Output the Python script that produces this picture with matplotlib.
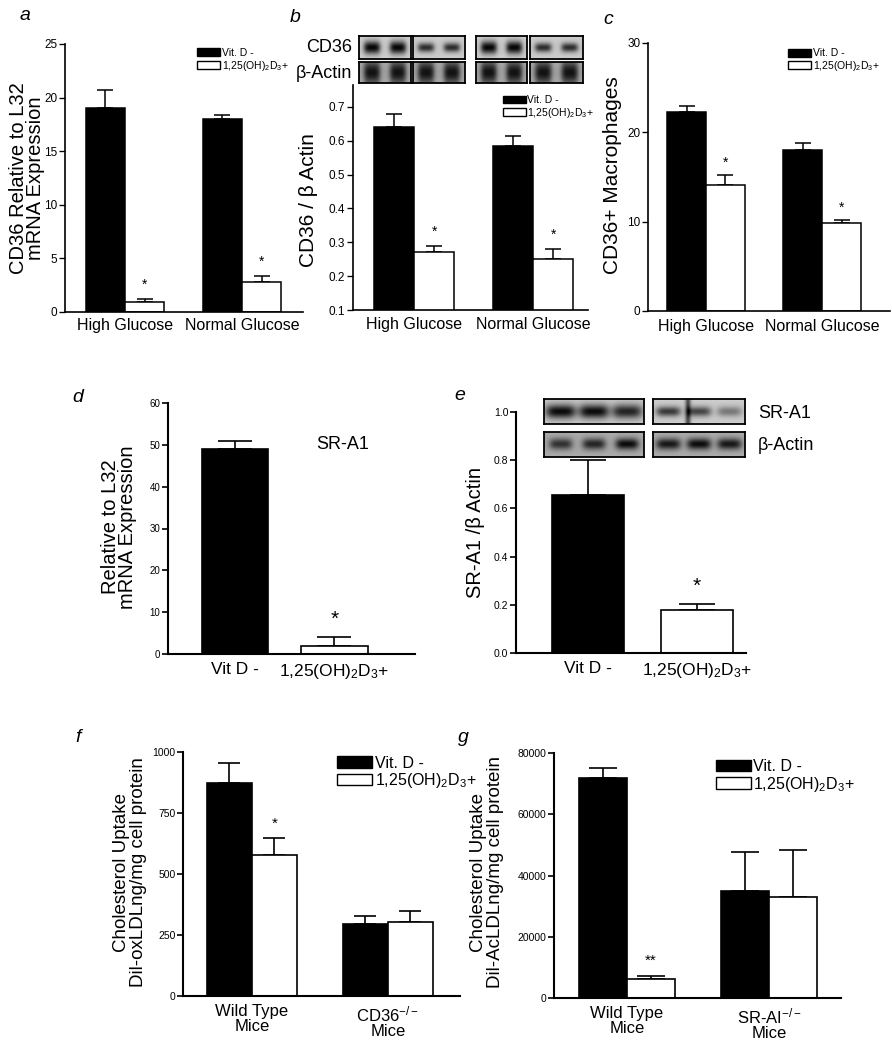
"""
Vitamin D / CD36 / SR-A1 figure, panels a-g, rebuilt with matplotlib.
Layout is done in pixel coordinates of the 892x1050 original.
"""
import numpy as np
import matplotlib
matplotlib.use("Agg")
import matplotlib.pyplot as plt
from matplotlib.patches import Patch

plt.rcParams["font.family"] = ["Liberation Sans", "DejaVu Sans"]
plt.rcParams["mathtext.fontset"] = "custom"
plt.rcParams["mathtext.rm"] = "Liberation Sans"
plt.rcParams["mathtext.it"] = "Liberation Sans:italic"
plt.rcParams["mathtext.default"] = "regular"

# ---------- data ----------
GLUCOSE = ["High Glucose", "Normal Glucose"]
LEGEND = ["Vit. D -", "1,25(OH)$_2$D$_3$+"]

A_VITD = [19.0, 18.0]
A_VITD_ERR = [1.7, 0.4]
A_CAL = [0.9, 2.8]
A_CAL_ERR = [0.3, 0.6]

B_VITD = [0.64, 0.585]
B_VITD_ERR = [0.04, 0.03]
B_CAL = [0.27, 0.25]
B_CAL_ERR = [0.02, 0.03]

C_VITD = [22.3, 18.0]
C_VITD_ERR = [0.7, 0.8]
C_CAL = [14.1, 9.8]
C_CAL_ERR = [1.1, 0.4]

TREAT = ["Vit D -", "1,25(OH)$_2$D$_3$+"]
D_VALS = [49.0, 2.0]
D_ERR = [2.0, 2.0]
E_VALS = [0.655, 0.18]
E_ERR = [0.145, 0.022]

F_MICE = ["Wild Type\nMice", "CD36$^{-/-}$\nMice"]
F_VITD = [873, 295]
F_VITD_ERR = [82, 33]
F_CAL = [578, 303]
F_CAL_ERR = [70, 45]

G_MICE = ["Wild Type\nMice", "SR-AI$^{-/-}$\nMice"]
G_VITD = [71800, 34900]
G_VITD_ERR = [3300, 12800]
G_CAL = [6200, 33000]
G_CAL_ERR = [1000, 15300]

# ---------- helpers ----------
W, H = 892, 1050
fig = plt.figure(figsize=(W / 100, H / 100), dpi=100)


def px_axes(x0, y0, x1, y1):
    return fig.add_axes([x0 / W, 1 - y1 / H, (x1 - x0) / W, (y1 - y0) / H])


def ftext(x, y, s, **kw):
    fig.text(x / W, 1 - y / H, s, **kw)


def style(ax, lw, ticksize, xsize, xpad):
    for s in ("top", "right"):
        ax.spines[s].set_visible(False)
    for s in ("left", "bottom"):
        ax.spines[s].set_linewidth(lw)
    ax.tick_params(axis="y", length=4, width=lw * 0.8, labelsize=ticksize, pad=1.5)
    ax.tick_params(axis="x", length=0, labelsize=xsize, pad=xpad)


def bars_with_err(ax, xs, vals, errs, width, color, capsize, lw):
    ax.bar(xs, vals, width, color=color, edgecolor="black", linewidth=lw, zorder=2)
    ax.errorbar(xs, vals, yerr=[np.zeros(len(vals)), errs], fmt="none",
                ecolor="black", elinewidth=lw, capsize=capsize, capthick=lw, zorder=1)


def star(ax, x, top, s, offset, size):
    ax.annotate(s, xy=(x, top), xytext=(0, offset), textcoords="offset points",
                ha="center", va="center", fontsize=size)


def legend(ax, x, y, size, hl, hh):
    handles = [Patch(facecolor="black", edgecolor="black"),
               Patch(facecolor="white", edgecolor="black")]
    ax.legend(handles, LEGEND, loc="upper left", bbox_to_anchor=(x, y), frameon=False,
              fontsize=size, handlelength=hl, handleheight=hh, labelspacing=0.05,
              handletextpad=0.15, borderpad=0, borderaxespad=0)


def blot(x0, y0, x1, y1, strengths, bg, bw=0.32, bh=0.28, streak=0.0):
    ax = px_axes(x0, y0, x1, y1)
    xx, yy = np.meshgrid(np.linspace(0, 1, 160), np.linspace(0, 1, 40))
    img = np.full(xx.shape, bg)
    n = len(strengths)
    for i, s in enumerate(strengths):
        c = (i + 0.5) / n
        img -= s * np.exp(-((xx - c) / (bw / n)) ** 4 - ((yy - 0.5) / bh) ** 2)
    if streak:
        img -= streak * np.exp(-((xx - 0.38) / 0.03) ** 2)
    img -= 0.08 * np.exp(-((yy - 0.5) / 0.6) ** 2)
    ax.imshow(np.clip(img, 0, 1), cmap="gray", vmin=0, vmax=1, aspect="auto")
    ax.set_xticks([]); ax.set_yticks([])
    for s in ax.spines.values():
        s.set_linewidth(1.3)


# ---------- panel a ----------
ax = px_axes(65, 44, 303, 312)
x = np.arange(2)
w = 0.335
bars_with_err(ax, x - w / 2, A_VITD, A_VITD_ERR, w, "black", 5.5, 1.1)
bars_with_err(ax, x + w / 2, A_CAL, A_CAL_ERR, w, "white", 5.5, 1.1)
for i in range(2):
    star(ax, x[i] + w / 2, A_CAL[i] + A_CAL_ERR[i], "*", 10, 10)
ax.set_xlim(-0.513, 1.521); ax.set_ylim(0, 25)
ax.set_yticks([0, 5, 10, 15, 20, 25])
ax.set_xticks(x, GLUCOSE)
style(ax, 1.2, 8.5, 11.5, 4)
legend(ax, 0.555, 0.985, 7.5, 2.2, 0.8)
ftext(27, 178, "CD36 Relative to L32\nmRNA Expression", rotation=90, ha="center",
      va="center", ma="center", fontsize=14.5, linespacing=0.9)
ftext(20, 16, "a", fontsize=14, style="italic", ha="left", va="center")

# ---------- panel b ----------
ax = px_axes(353, 85, 588, 310)
w = 0.336
bars_with_err(ax, x - w / 2, B_VITD, B_VITD_ERR, w, "black", 5.5, 1.1)
bars_with_err(ax, x + w / 2, B_CAL, B_CAL_ERR, w, "white", 5.5, 1.1)
for i in range(2):
    star(ax, x[i] + w / 2, B_CAL[i] + B_CAL_ERR[i], "*", 10, 10)
ax.set_xlim(-0.513, 1.462); ax.set_ylim(0.1, 0.765)
ax.set_yticks(np.arange(1, 8) / 10)
ax.set_yticklabels([f"{v / 10:.1f}" for v in range(1, 8)])
ax.set_xticks(x, GLUCOSE)
style(ax, 1.2, 8.5, 11.5, 5)
legend(ax, 0.638, 0.955, 7.5, 2.2, 0.8)
ftext(309, 200, "CD36 / \u03b2 Actin", rotation=90, ha="center", va="center", fontsize=15)
ftext(290, 17, "b", fontsize=14, style="italic", ha="left", va="center")
ftext(352, 48, "CD36", ha="right", va="center", fontsize=13)
ftext(352, 73, "\u03b2-Actin", ha="right", va="center", fontsize=13)
blot(359, 36, 411, 59, [0.75, 0.75], 0.85)
blot(413, 36, 465, 59, [0.6, 0.6], 0.85, bh=0.2)
blot(476, 36, 527, 59, [0.75, 0.75], 0.85)
blot(530, 36, 583, 59, [0.6, 0.6], 0.85, bh=0.2)
for bx0, bx1 in [(359, 411), (413, 465), (476, 527), (530, 583)]:
    blot(bx0, 62, bx1, 83, [0.55, 0.55], 0.7, bh=0.6)

# ---------- panel c ----------
ax = px_axes(648, 43, 890, 311)
w = 0.336
bars_with_err(ax, x - w / 2, C_VITD, C_VITD_ERR, w, "black", 5.5, 1.1)
bars_with_err(ax, x + w / 2, C_CAL, C_CAL_ERR, w, "white", 5.5, 1.1)
for i in range(2):
    star(ax, x[i] + w / 2, C_CAL[i] + C_CAL_ERR[i], "*", 9, 10)
ax.set_xlim(-0.5, 1.586); ax.set_ylim(0, 30)
ax.set_yticks([0, 10, 20, 30])
ax.set_xticks(x, GLUCOSE)
style(ax, 1.2, 8.5, 11.5, 6)
legend(ax, 0.579, 0.98, 7.5, 2.2, 0.8)
ftext(613, 175, "CD36+ Macrophages", rotation=90, ha="center", va="center", fontsize=15)
ftext(603, 20, "c", fontsize=14, style="italic", ha="left", va="center")

# ---------- panel d ----------
ax = px_axes(168, 403, 415, 654)
w = 0.668
ax.bar(x, D_VALS, w, color=["black", "white"], edgecolor="black", linewidth=1.2, zorder=2)
ax.errorbar(x, D_VALS, yerr=[np.zeros(2), D_ERR], fmt="none", ecolor="black",
            elinewidth=1.2, capsize=12, capthick=1.2, zorder=1)
star(ax, x[1], D_VALS[1] + D_ERR[1], "*", 13, 15)
ax.set_xlim(-0.673, 1.809); ax.set_ylim(0, 60)
ax.set_yticks(range(0, 61, 10))
ax.set_xticks(x, TREAT)
style(ax, 1.5, 7, 12.5, 6)
ax.text(1.08, 50, "SR-A1", ha="center", va="center", fontsize=13)
ftext(119, 527, "Relative to L32\nmRNA Expression", rotation=90, ha="center",
      va="center", ma="center", fontsize=14.5, linespacing=0.9)
ftext(78, 398, "d", fontsize=14, style="italic", ha="center", va="center")

# ---------- panel e ----------
ax = px_axes(516, 412, 746, 653)
w = 0.66
ax.bar(x, E_VALS, w, color=["black", "white"], edgecolor="black", linewidth=1.2, zorder=2)
ax.errorbar(x, E_VALS, yerr=[np.zeros(2), E_ERR], fmt="none", ecolor="black",
            elinewidth=1.2, capsize=13, capthick=1.2, zorder=1)
star(ax, x[1], E_VALS[1] + E_ERR[1], "*", 13, 15)
ax.set_xlim(-0.661, 1.45); ax.set_ylim(0, 1.0)
ax.set_yticks(np.arange(0, 6) / 5)
ax.set_yticklabels([f"{v / 5:.1f}" for v in range(6)])
ax.set_xticks(x, TREAT)
style(ax, 1.5, 7.5, 12.5, 6)
ftext(475, 532, "SR-A1 /\u03b2 Actin", rotation=90, ha="center", va="center", fontsize=14.5)
ftext(460, 395, "e", fontsize=14, style="italic", ha="center", va="center")
ftext(758, 413, "SR-A1", ha="left", va="center", fontsize=13)
ftext(758, 445, "\u03b2-Actin", ha="left", va="center", fontsize=13)
blot(544, 399, 644, 424, [0.7, 0.7, 0.6], 0.82, bw=0.45)
blot(653, 399, 745, 424, [0.55, 0.5, 0.3], 0.85, bw=0.4, bh=0.2, streak=0.5)
blot(544, 432, 644, 457, [0.45, 0.5, 0.6], 0.72, bw=0.35, bh=0.22)
blot(653, 432, 745, 457, [0.55, 0.6, 0.55], 0.72, bw=0.4, bh=0.22)

# ---------- panel f ----------
ax = px_axes(183, 752, 460, 996)
w = 0.331
bars_with_err(ax, x - w / 2, F_VITD, F_VITD_ERR, w, "black", 8, 1.2)
bars_with_err(ax, x + w / 2, F_CAL, F_CAL_ERR, w, "white", 8, 1.2)
star(ax, x[0] + w / 2, F_CAL[0] + F_CAL_ERR[0], "*", 10, 11)
ax.set_xlim(-0.507, 1.53); ax.set_ylim(0, 1000)
ax.set_yticks([0, 250, 500, 750, 1000])
ax.set_xticks(x, F_MICE)
style(ax, 1.5, 7.5, 12, 6)
for t in ax.get_xticklabels():
    t.set_linespacing(1.0)
legend(ax, 0.556, 0.985, 11.5, 2.2, 0.7)
ftext(130, 872, "Cholesterol Uptake\nDil-oxLDLng/mg cell protein", rotation=90,
      ha="center", va="center", ma="center", fontsize=13.5, linespacing=1.0)
ftext(78, 737, "f", fontsize=14, style="italic", ha="center", va="center")

# ---------- panel g ----------
ax = px_axes(554, 753, 841, 998)
w = 0.338
bars_with_err(ax, x - w / 2, G_VITD, G_VITD_ERR, w, "black", 10, 1.2)
bars_with_err(ax, x + w / 2, G_CAL, G_CAL_ERR, w, "white", 10, 1.2)
star(ax, x[0] + w / 2, G_CAL[0] + G_CAL_ERR[0], "**", 11, 11)
ax.set_xlim(-0.514, 1.507); ax.set_ylim(0, 80000)
ax.set_yticks(range(0, 80001, 20000))
ax.set_xticks(x, G_MICE)
style(ax, 1.5, 7.5, 12, 6)
for t in ax.get_xticklabels():
    t.set_linespacing(1.0)
legend(ax, 0.564, 0.976, 11.5, 2.2, 0.7)
ftext(487, 872, "Cholesterol Uptake\nDil-AcLDLng/mg cell protein", rotation=90,
      ha="center", va="center", ma="center", fontsize=13.5, linespacing=1.0)
ftext(463, 737, "g", fontsize=14, style="italic", ha="center", va="center")

fig.savefig("out.png", dpi=100)
